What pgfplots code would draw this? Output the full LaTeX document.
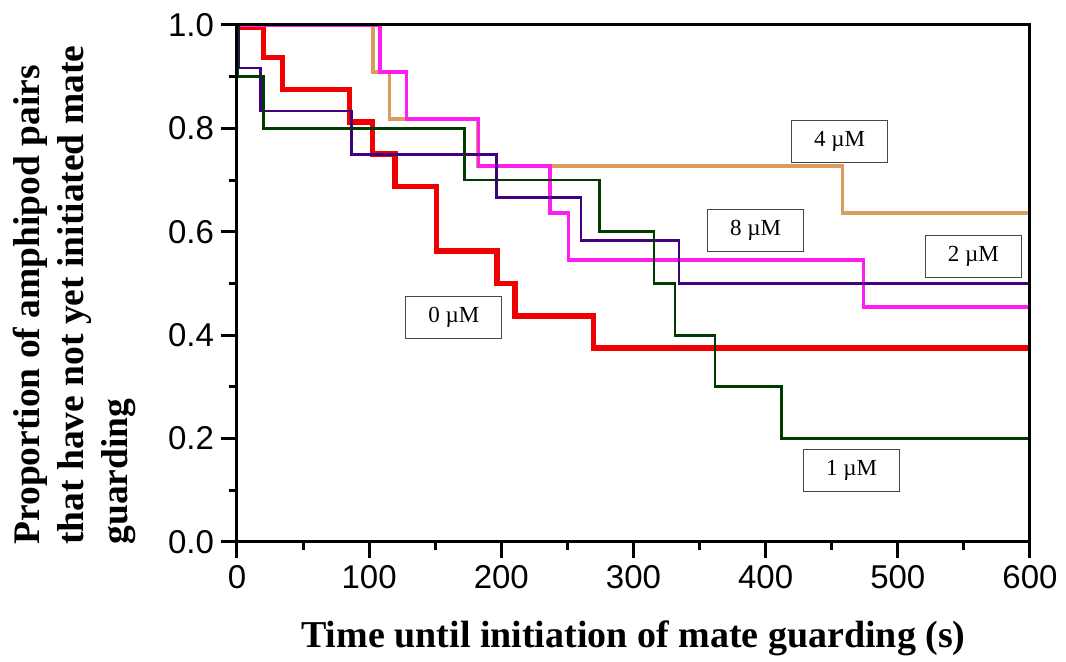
\documentclass[border=0pt]{standalone}
\usepackage{fontspec}
\setmainfont{Liberation Serif}
\setsansfont{Liberation Sans}
\usepackage{pgfplots}
\pgfplotsset{compat=1.18}
\definecolor{cred}{HTML}{F00000}
\definecolor{cmag}{HTML}{FF1EF0}
\definecolor{ctan}{HTML}{DC9C5E}
\definecolor{cpur}{HTML}{400080}
\definecolor{cgrn}{HTML}{003C00}
\tikzset{concbox/.style={draw=black!72, line width=0.7pt, fill=white, minimum width=48pt, minimum height=21pt, inner sep=0pt, font=\fontsize{11.5}{13}\selectfont}}
\begin{document}
\begin{tikzpicture}
\begin{axis}[
  name=main,
  scale only axis,
  width=396.5pt, height=258.5pt,
  xmin=0, xmax=600, ymin=0, ymax=1,
  xtick={0,100,200,300,400,500,600},
  ytick={0,0.2,0.4,0.6,0.8,1},
  minor xtick={50,150,250,350,450,550},
  minor ytick={0.1,0.3,0.5,0.7,0.9},
  tick align=outside,
  tick pos=left,
  major tick length=8pt, minor tick length=4pt,
  every tick/.append style={black, line width=1.5pt},
  axis line style={line width=1.5pt},
  /pgf/number format/assume math mode=true,
  tick label style={font=\sffamily\fontsize{16.5}{18}\selectfont},
  yticklabel style={/pgf/number format/fixed, /pgf/number format/fixed zerofill, /pgf/number format/precision=1},
  axis on top,
  clip=false,
  xlabel={Time until initiation of mate guarding (s)},
  xlabel style={font=\bfseries\fontsize{19}{22}\selectfont, at={(axis description cs:0.5,-0.205)}, anchor=base},
  ylabel={Proportion of amphipod pairs\\that have not yet initiated mate\\guarding},
  ylabel style={align=left, font=\bfseries\fontsize{18.75}{22}\selectfont, at={(axis description cs:-0.2825,-0.0058)}, anchor=north west, inner sep=0pt},
]
% 4 uM (tan)
\addplot[const plot, color=ctan, line width=1.8pt] coordinates {
  (0,1) (102.7,0.9091) (115.3,0.8182) (182,0.7273) (458,0.6364) (600,0.6364)};
% 0 uM (red)
\addplot[const plot, color=cred, line width=2.8pt] coordinates {
  (0,0.995) (20,0.9375) (34.5,0.875) (85,0.8125) (102.6,0.75) (119.5,0.6875) (151,0.5625) (196.5,0.5) (210.3,0.4375) (269.6,0.375) (600,0.375)};
% magenta
\addplot[const plot, color=cmag, line width=1.6pt] coordinates {
  (0,1) (108.2,0.9091) (128.4,0.8182) (182.6,0.7273) (236.8,0.6364) (250.7,0.5455) (473.9,0.4545) (600,0.4545)};
% purple
\addplot[const plot, color=cpur, line width=1.3pt] coordinates {
  (0,1) (1,0.9167) (17.9,0.8333) (86.8,0.75) (196.5,0.6667) (260.3,0.5833) (334.4,0.5) (600,0.5)};
% 1 uM (green)
\addplot[const plot, color=cgrn, line width=1.4pt] coordinates {
  (0,1) (0.5,0.9) (19.9,0.8) (172,0.7) (274,0.6) (315.5,0.5) (331.4,0.4) (361.6,0.3) (412,0.2) (600,0.2)};
\node[concbox] at (axis cs:456.0,0.7743) {4 µM};
\node[concbox] at (axis cs:392.4,0.6025) {8 µM};
\node[concbox] at (axis cs:557.2,0.5526) {2 µM};
\node[concbox] at (axis cs:164.0,0.4348) {0 µM};
\node[concbox] at (axis cs:465.1,0.1383) {1 µM};
\end{axis}
\pgfresetboundingbox
\path ([shift={(-118.5pt,-60pt)}]main.south west) rectangle ([shift={(18pt,12.5pt)}]main.north east);
\end{tikzpicture}
\end{document}
